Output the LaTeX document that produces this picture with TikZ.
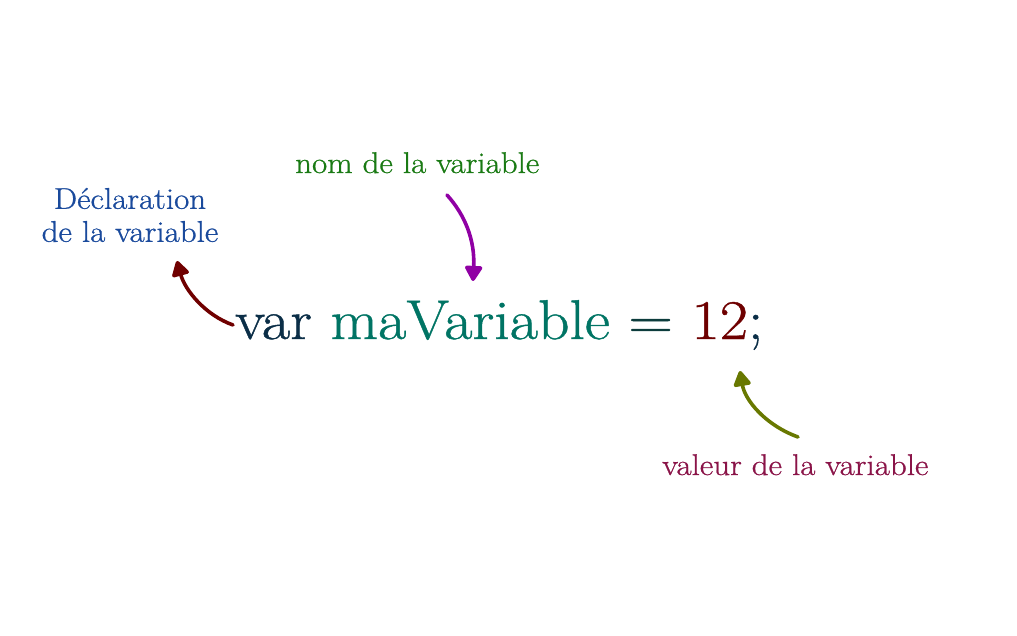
\documentclass[tikz,border=0pt]{standalone}
\usepackage{fontspec}
\setmainfont{Latin Modern Roman}[FakeStretch=1.1, FakeBold=0.8]
\usetikzlibrary{arrows.meta}
\definecolor{cvar}{HTML}{0B2E47}
\definecolor{cname}{HTML}{007464}
\definecolor{ceq}{HTML}{0C3C3C}
\definecolor{cval}{HTML}{6E0000}
\definecolor{cdecl}{HTML}{1A4A9C}
\definecolor{cnom}{HTML}{1A7A14}
\definecolor{cvaleur}{HTML}{8A1448}
\definecolor{adecl}{HTML}{700000}
\definecolor{anom}{HTML}{9000A4}
\definecolor{avaleur}{HTML}{687800}
\tikzset{
  lbl/.style={inner sep=0pt, font=\fontsize{30}{33}\selectfont},
  code/.style={inner sep=0pt, font=\fontsize{56}{60}\selectfont},
  pointer/.style={line width=3.6pt, line cap=round, -{Triangle[length=17pt,width=19pt,round]}}
}
\begin{document}
\begin{tikzpicture}[x=1pt,y=-1pt]
\useasboundingbox (0,0) rectangle (1017,636);
\node[code, anchor=base west] (code) at (235,339)
  {\textcolor{cvar}{var} \textcolor{cname}{maVariable} \textcolor{ceq}{=} \textcolor{cval}{12}\textcolor{cvar}{;}};
\node[lbl, text=cdecl, align=center, anchor=center] (decl) at (130,215)
  {Déclaration\\de la variable};
\node[lbl, text=cnom, anchor=base west] (nom) at (295,173) {nom de la variable};
\node[lbl, text=cvaleur, anchor=base west] (valeur) at (662,475) {valeur de la variable};
\coordinate (d0) at (233,325);
\coordinate (d1) at (177,261);
\coordinate (n0) at (447,195);
\coordinate (n1) at (473,281);
\coordinate (v0) at (798,437);
\coordinate (v1) at (740,371);
\draw[pointer, adecl] (d0) .. controls (205,315) and (185,290) .. (d1);
\draw[pointer, anom] (n0) .. controls (465,215) and (475,240) .. (n1);
\draw[pointer, avaleur] (v0) .. controls (765,425) and (745,400) .. (v1);
\end{tikzpicture}
\end{document}
